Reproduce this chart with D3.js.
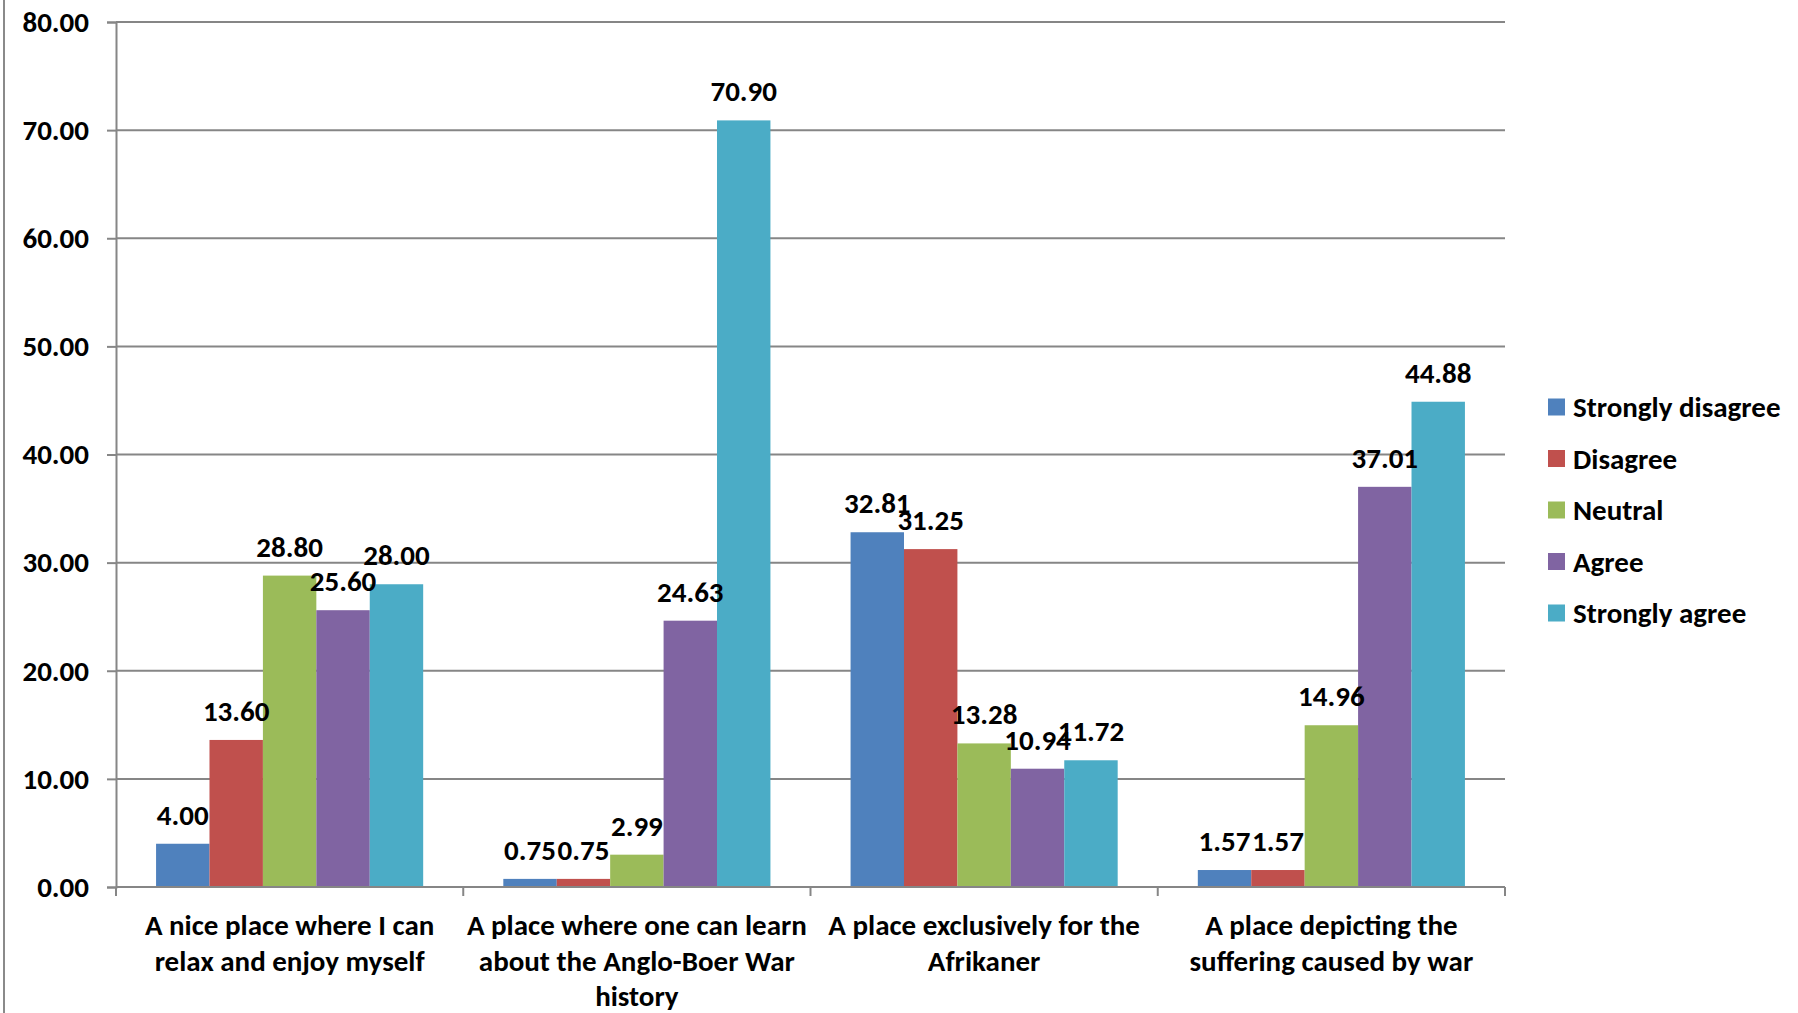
<!DOCTYPE html>
<html><head><meta charset="utf-8">
<script src="https://cdn.jsdelivr.net/npm/d3@7"></script>
<style>body{margin:0;background:#fff}svg{display:block}text{font-family:Carlito,Calibri,Lato,sans-serif;font-weight:bold;fill:#000}</style>
</head><body>
<script>
const categories = [
  ["A nice place where I can","relax and enjoy myself"],
  ["A place where one can learn","about the Anglo-Boer War","history"],
  ["A place exclusively for the","Afrikaner"],
  ["A place depicting the","suffering caused by war"]
];
const seriesNames = ["Strongly disagree","Disagree","Neutral","Agree","Strongly agree"];
const stronglyDisagree = [4.00, 0.75, 32.81, 1.57];
const disagree = [13.60, 0.75, 31.25, 1.57];
const neutral = [28.80, 2.99, 13.28, 14.96];
const agree = [25.60, 24.63, 10.94, 37.01];
const stronglyAgree = [28.00, 70.90, 11.72, 44.88];
const yTicks = [0,10,20,30,40,50,60,70,80];
const colors = ["#4F81BD","#C0504D","#9BBB59","#8064A2","#4BACC6"];
const series = [stronglyDisagree, disagree, neutral, agree, stronglyAgree];

const W=1798,H=1013;
const FS="29px";
const svg=d3.select("body").append("svg").attr("width",W).attr("height",H);
const L=116,R=1505,T=22,B=887;
const x0=d3.scaleBand().domain(d3.range(categories.length)).range([L,R]).paddingInner(0).paddingOuter(0);
const x1=d3.scaleBand().domain(d3.range(series.length)).range([0,x0.bandwidth()]).paddingOuter(0.75).paddingInner(0);
const y=d3.scaleLinear().domain([0,80]).range([B,T]);

// border
svg.append("line").attr("x1",4).attr("x2",4).attr("y1",0).attr("y2",H).attr("stroke","#8a8a8a").attr("stroke-width",2);

// gridlines
svg.append("g").selectAll("line").data(yTicks.filter(d=>d>0)).join("line")
  .attr("x1",L).attr("x2",R).attr("y1",d=>y(d)).attr("y2",d=>y(d))
  .attr("stroke","#868686").attr("stroke-width",2);

// y axis
const ya=svg.append("g").attr("transform",`translate(${L},0)`)
  .call(d3.axisLeft(y).tickValues(yTicks).tickFormat(d3.format(".2f")).tickSize(9).tickPadding(18));
ya.select(".domain").attr("stroke","#868686").attr("stroke-width",2);
ya.selectAll(".tick line").attr("stroke","#868686").attr("stroke-width",2);
ya.selectAll("text").style("font-size",FS).attr("fill","#000");

// bars
const g=svg.append("g");
categories.forEach((c,i)=>{
  series.forEach((s,j)=>{
    g.append("rect").attr("x",x0(i)+x1(j)).attr("width",x1.bandwidth())
      .attr("y",y(s[i])).attr("height",y(0)-y(s[i])).attr("fill",colors[j]);
  });
});
// labels
categories.forEach((c,i)=>{
  series.forEach((s,j)=>{
    g.append("text").attr("x",x0(i)+x1(j)+x1.bandwidth()/2).attr("y",y(s[i])-19)
      .attr("text-anchor","middle").style("font-size",FS).text(s[i].toFixed(2));
  });
});

// x axis
const xa=svg.append("g").attr("transform",`translate(0,${B})`);
xa.append("line").attr("x1",L).attr("x2",R).attr("stroke","#868686").attr("stroke-width",2);
d3.range(categories.length+1).forEach(i=>{
  const xx=L+i*x0.bandwidth();
  xa.append("line").attr("x1",xx).attr("x2",xx).attr("y1",0).attr("y2",9).attr("stroke","#868686").attr("stroke-width",2);
});
categories.forEach((c,i)=>{
  const t=xa.append("text").attr("text-anchor","middle").style("font-size",FS);
  c.forEach((line,k)=>t.append("tspan").attr("x",x0(i)+x0.bandwidth()/2).attr("y",48+k*35.5).text(line));
});

// legend
const lg=svg.append("g");
seriesNames.forEach((n,j)=>{
  const cy=407+j*51.5;
  lg.append("rect").attr("x",1548).attr("y",cy-8.5).attr("width",17).attr("height",17).attr("fill",colors[j]);
  lg.append("text").attr("x",1573).attr("y",cy+10).style("font-size",FS).text(n);
});
</script>
</body></html>
